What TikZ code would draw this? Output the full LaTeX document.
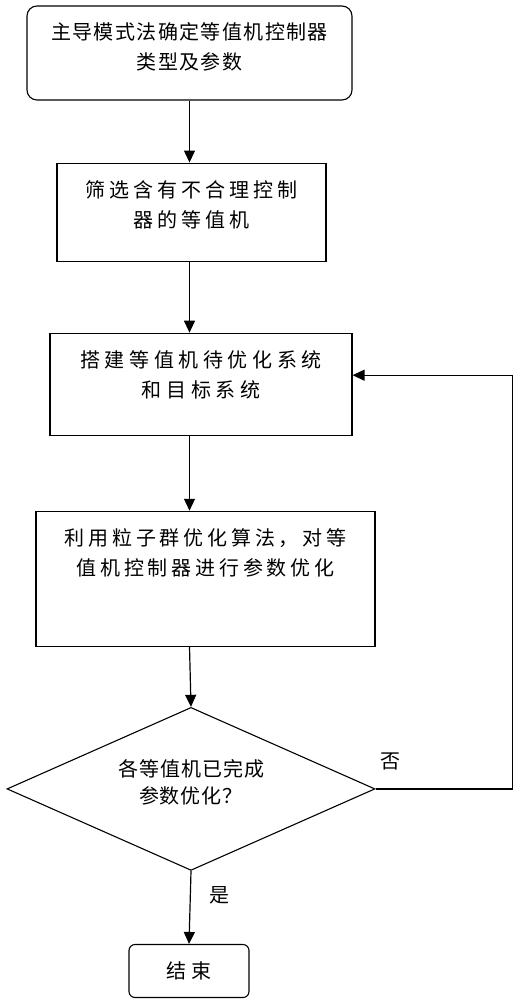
\documentclass[tikz,border=0pt]{standalone}
\usepackage{fontspec}
\usepackage{tikz}
\usetikzlibrary{shapes.geometric, arrows.meta, positioning}
\newfontfamily\cjk{Noto Sans CJK SC}
\newcommand{\boxfont}[1]{\cjk\fontsize{20pt}{30pt}\selectfont\addfontfeature{LetterSpace=#1}}
\tikzstyle{stepbox} = [rectangle, draw=black, line width=1.1pt, inner sep=0pt, align=center, text height=34pt]
\tikzstyle{decision} = [diamond, draw=black, line width=1.1pt, inner sep=0pt, aspect=2.26, minimum width=368pt, minimum height=163pt, align=center]
\tikzstyle{arrow} = [line width=1.2pt, -{Triangle[length=12pt, width=11pt]}]
\tikzstyle{answer} = [inner sep=0pt, font=\boxfont{0}]

\begin{document}
\begin{tikzpicture}[x=1pt, y=1pt]
  \useasboundingbox (0,0) rectangle (520,-1000);
  \node[stepbox, rounded corners=10pt, text width=325pt, text depth=60pt, font=\boxfont{7}] (model) at (189.5,-53) {主导模式法确定等值机控制器\\类型及参数};
  \node[stepbox, text width=269pt, text depth=64pt, font=\boxfont{20}, below=62pt of model, xshift=2pt] (screen) {筛选含有不合理控制\\器的等值机};
  \node[stepbox, text width=302pt, text depth=68pt, font=\boxfont{23}, below=71pt of screen, xshift=9.5pt] (build) {搭建等值机待优化系统\\和目标系统};
  \node[stepbox, text width=339pt, text depth=101pt, font=\boxfont{19}, below=75pt of build, xshift=4.5pt] (pso) {利用粒子群优化算法，对等\\值机控制器进行参数优化};
  \node[decision, text width=170pt, text height=10pt, text depth=34.8pt, font={\cjk\fontsize{20pt}{27pt}\selectfont\addfontfeature{LetterSpace=5}}, below=60pt of pso, xshift=-14.5pt] (check) {各等值机已完成\\参数优化？};
  \node[stepbox, rounded corners=6pt, text height=, minimum width=120pt, minimum height=53pt, font=\boxfont{25}, below=73pt of check, xshift=-2pt] (finish) {结束};

  \draw[arrow] (model.south) -- (model.south |- screen.north);
  \draw[arrow] (model |- screen.south) -- (model |- build.north);
  \draw[arrow] (model |- build.south) -- (model |- pso.north);
  \draw[arrow] (model |- pso.south) -- (check.north);
  \draw[arrow] (check.south) -- node[answer, pos=0.33, right=19pt] {是} (finish.north);
  \draw[arrow] (check.east) -- node[answer, pos=0.11, above=18pt] {否} ++(137,0) |- ([yshift=9pt]build.east);
\end{tikzpicture}
\end{document}
